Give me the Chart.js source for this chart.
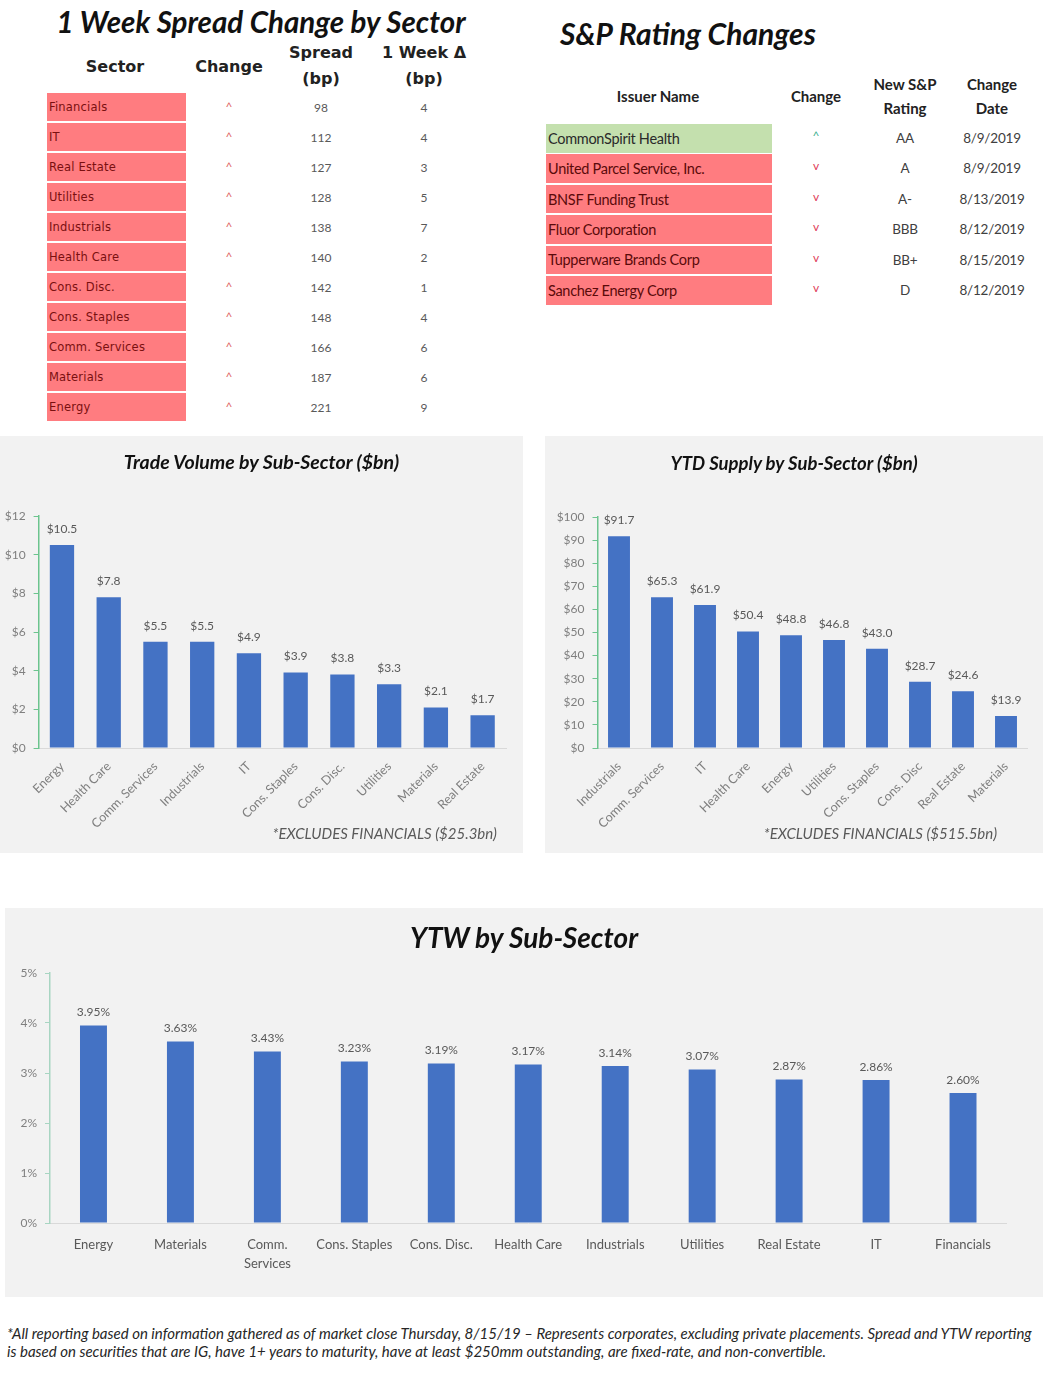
<!DOCTYPE html>
<html><head><meta charset="utf-8">
<script src="https://cdn.jsdelivr.net/npm/chart.js"></script>
<style>
html,body{margin:0;padding:0;background:#fff;}
body{position:relative;width:1061px;height:1378px;overflow:hidden;font-family:Lato,"Noto Sans",sans-serif;}
.abs{position:absolute;}
.ttl{font-weight:bold;font-style:italic;color:#111;white-space:nowrap;}
.hdr{font-family:"DejaVu Sans",sans-serif;font-weight:bold;font-size:16px;color:#222;text-align:center;line-height:26px;}
.rhdr{font-weight:bold;font-size:15px;color:#222;text-align:center;line-height:24px;}
.cellL{background:#FF7C80;color:#7A1010;font-family:"DejaVu Sans",sans-serif;font-size:11.5px;letter-spacing:0.2px;box-sizing:border-box;padding-left:2px;display:flex;align-items:center;}
.cellR{color:#7A1010;font-size:14.5px;box-sizing:border-box;padding-left:2px;display:flex;align-items:center;letter-spacing:-0.3px;}
.num{font-size:12px;color:#595959;text-align:center;width:60px;}
.rnum{font-size:13.5px;color:#404040;text-align:center;width:90px;letter-spacing:-0.2px;}
.panel{background:#F2F2F2;}
.foot{font-style:italic;font-size:15px;color:#595959;white-space:nowrap;}
</style></head>
<body>
<div id="root"></div>
<script>
// ---------- DATA ----------
const spreadSectors = ['Financials','IT','Real Estate','Utilities','Industrials','Health Care','Cons. Disc.','Cons. Staples','Comm. Services','Materials','Energy'];
const spreadChangeDir = ['^','^','^','^','^','^','^','^','^','^','^'];
const spreadBp = [98,112,127,128,138,140,142,148,166,187,221];
const weekDeltaBp = [4,4,3,5,7,2,1,4,6,6,9];

const issuers = ['CommonSpirit Health','United Parcel Service, Inc.','BNSF Funding Trust','Fluor Corporation','Tupperware Brands Corp','Sanchez Energy Corp'];
const ratingDir = ['^','v','v','v','v','v'];
const newRatings = ['AA','A','A-','BBB','BB+','D'];
const changeDates = ['8/9/2019','8/9/2019','8/13/2019','8/12/2019','8/15/2019','8/12/2019'];

const tradeCats = ['Energy','Health Care','Comm. Services','Industrials','IT','Cons. Staples','Cons. Disc.','Utilities','Materials','Real Estate'];
const tradeVals = [10.5,7.8,5.5,5.5,4.9,3.9,3.8,3.3,2.1,1.7];
const tradeTicks = [0,2,4,6,8,10,12];

const supplyCats = ['Industrials','Comm. Services','IT','Health Care','Energy','Utilities','Cons. Staples','Cons. Disc','Real Estate','Materials'];
const supplyVals = [91.7,65.3,61.9,50.4,48.8,46.8,43.0,28.7,24.6,13.9];
const supplyTicks = [0,10,20,30,40,50,60,70,80,90,100];

const ytwCats = ['Energy','Materials',['Comm.','Services'],'Cons. Staples','Cons. Disc.','Health Care','Industrials','Utilities','Real Estate','IT','Financials'];
const ytwVals = [3.95,3.63,3.43,3.23,3.19,3.17,3.14,3.07,2.87,2.86,2.60];
const ytwTicks = [0,1,2,3,4,5];

// ---------- LAYOUT ----------
const root = document.getElementById('root');
function el(cls, style, html){
  const d=document.createElement('div'); d.className='abs '+cls;
  Object.assign(d.style, style); if(html!==undefined) d.innerHTML=html; root.appendChild(d); return d;
}
// Left table
el('ttl',{left:'0px',top:'3px',width:'522px',textAlign:'center',fontSize:'29.5px',lineHeight:'38px'},'1 Week Spread Change by Sector');
el('hdr',{left:'65px',top:'54px',width:'100px'},'Sector');
el('hdr',{left:'179px',top:'54px',width:'100px'},'Change');
el('hdr',{left:'266px',top:'40px',width:'110px'},'Spread<br>(bp)');
el('hdr',{left:'369px',top:'40px',width:'110px'},'1 Week Δ<br>(bp)');
spreadSectors.forEach((s,i)=>{
  const top = 93 + i*29.95;
  el('cellL',{left:'47px',top:top+'px',width:'139px',height:'28px'},s);
  el('num',{left:'199px',top:(top+6)+'px',color:'#E06666'},spreadChangeDir[i]);
  el('num',{left:'291px',top:(top+7)+'px'},spreadBp[i]);
  el('num',{left:'394px',top:(top+7)+'px'},weekDeltaBp[i]);
});
// Right table
el('ttl',{left:'560px',top:'14px',fontSize:'30px',lineHeight:'38px'},'S&amp;P Rating Changes');
el('rhdr',{left:'598px',top:'84px',width:'120px'},'Issuer Name');
el('rhdr',{left:'776px',top:'84px',width:'80px'},'Change');
el('rhdr',{left:'860px',top:'72px',width:'90px'},'New S&amp;P<br>Rating');
el('rhdr',{left:'947px',top:'72px',width:'90px'},'Change<br>Date');
issuers.forEach((s,i)=>{
  const top = 124 + i*30.4;
  el('cellR',{left:'546px',top:top+'px',width:'226px',height:'28.5px',background:i===0?'#C4E0AE':'#FF7C80',color:i===0?'#2a2a2a':'#5a0a0a'},s);
  el('rnum',{left:'771px',top:(top+4)+'px',fontSize:'12px',color:ratingDir[i]==='^'?'#3BB08F':'#E0405A'},ratingDir[i]);
  el('rnum',{left:'860px',top:(top+6)+'px'},newRatings[i]);
  el('rnum',{left:'947px',top:(top+6)+'px'},changeDates[i]);
});
// Panels
el('panel',{left:'0px',top:'436px',width:'523px',height:'417px'});
el('panel',{left:'545px',top:'436px',width:'498px',height:'417px'});
el('panel',{left:'5px',top:'908px',width:'1038px',height:'389px'});
function addCanvas(id,l,t,w,h){
  const c=document.createElement('canvas'); c.id=id; c.width=w; c.height=h;
  c.style.position='absolute'; c.style.left=l+'px'; c.style.top=t+'px'; c.style.width=w+'px'; c.style.height=h+'px';
  root.appendChild(c); return c;
}
const cTrade = addCanvas('trade',0,436,523,417);
const cSupply = addCanvas('supply',545,436,498,417);
const cYtw = addCanvas('ytw',5,908,1038,389);
el('ttl',{left:'0px',top:'449px',width:'523px',textAlign:'center',fontSize:'19.5px',lineHeight:'26px'},'Trade Volume by Sub-Sector ($bn)');
el('ttl',{left:'545px',top:'450px',width:'498px',textAlign:'center',fontSize:'18.5px',lineHeight:'26px'},'YTD Supply by Sub-Sector ($bn)');
el('ttl',{left:'5px',top:'919px',width:'1038px',textAlign:'center',fontSize:'28px',lineHeight:'36px'},'YTW by Sub-Sector');
el('foot',{left:'255px',top:'824px',width:'242px',textAlign:'right'},'*EXCLUDES FINANCIALS ($25.3bn)');
el('foot',{left:'740px',top:'824px',width:'257px',textAlign:'right'},'*EXCLUDES FINANCIALS ($515.5bn)');
el('',{left:'7px',top:'1324px',fontStyle:'italic',fontSize:'15px',lineHeight:'18px',color:'#262626',whiteSpace:'nowrap'},
 '*All reporting based on information gathered as of market close Thursday, 8/15/19 – Represents corporates, excluding private placements. Spread and YTW reporting<br>is based on securities that are IG, have 1+ years to maturity, have at least $250mm outstanding, are fixed-rate, and non-convertible.');

// ---------- CHARTS ----------
Chart.defaults.font.family = 'Lato, "Noto Sans", sans-serif';
function labelPlugin(fmt, size, offset){
  return {id:'lbl',afterDatasetsDraw(chart){
    const ctx=chart.ctx, meta=chart.getDatasetMeta(0), data=chart.data.datasets[0].data;
    ctx.save(); ctx.font=size+'px Lato, "Noto Sans", sans-serif'; ctx.fillStyle='#595959';
    ctx.textAlign='center'; ctx.textBaseline='middle';
    meta.data.forEach((b,i)=>ctx.fillText(fmt(data[i]), b.x, b.y-offset));
    ctx.restore();
  }};
}
function barChart(canvas, cats, vals, ticks, tickFmt, lblFmt, cfg){
  return new Chart(canvas,{
    type:'bar',
    data:{labels:cats,datasets:[{data:vals,backgroundColor:'#4472C4',barPercentage:cfg.bar,categoryPercentage:1}]},
    options:{
      responsive:false,animation:false,
      layout:{padding:{top:cfg.top,right:cfg.right,left:0,bottom:0}},
      plugins:{legend:{display:false},tooltip:{enabled:false},title:{display:false}},
      scales:{
        x:{
          grid:{display:false},
          border:{display:true,color:'#D9D9D9',width:1},
          ticks:{color:cfg.xColor,font:{size:cfg.xSize,lineHeight:cfg.xLH},maxRotation:cfg.rot,minRotation:cfg.rot,padding:cfg.xPad,autoSkip:false},
          afterFit:s=>{s.height=cfg.xH;}
        },
        y:{
          min:ticks[0],max:ticks[ticks.length-1],
          afterBuildTicks:s=>{s.ticks=ticks.map(v=>({value:v}));},
          grid:{drawOnChartArea:false,drawTicks:true,tickLength:5,color:cfg.axis},
          border:{display:true,color:cfg.axis,width:1.5},
          ticks:{color:'#7F7F7F',font:{size:12},padding:8,callback:tickFmt},
          afterFit:s=>{s.width=cfg.yW;}
        }
      }
    },
    plugins:[labelPlugin(lblFmt,12,cfg.off)]
  });
}
barChart(cTrade, tradeCats, tradeVals, tradeTicks, v=>'$'+v, v=>'$'+v.toFixed(1),
  {bar:0.52,top:80,right:17,xH:105,yW:38.6,rot:45,xSize:12.5,xLH:1.2,xColor:'#7F7F7F',xPad:3,axis:'#6CC48E',off:16});
barChart(cSupply, supplyCats, supplyVals, supplyTicks, v=>'$'+v, v=>'$'+v.toFixed(1),
  {bar:0.51,top:81,right:15.5,xH:105,yW:52.5,rot:45,xSize:12.5,xLH:1.2,xColor:'#7F7F7F',xPad:3,axis:'#6CC48E',off:16});
barChart(cYtw, ytwCats, ytwVals, ytwTicks, v=>v+'%', v=>v.toFixed(2)+'%',
  {bar:0.31,top:65,right:36.5,xH:74,yW:45,rot:0,xSize:13,xLH:1.5,xColor:'#595959',xPad:4,axis:'#A8D5C2',off:13});
</script>
</body></html>
